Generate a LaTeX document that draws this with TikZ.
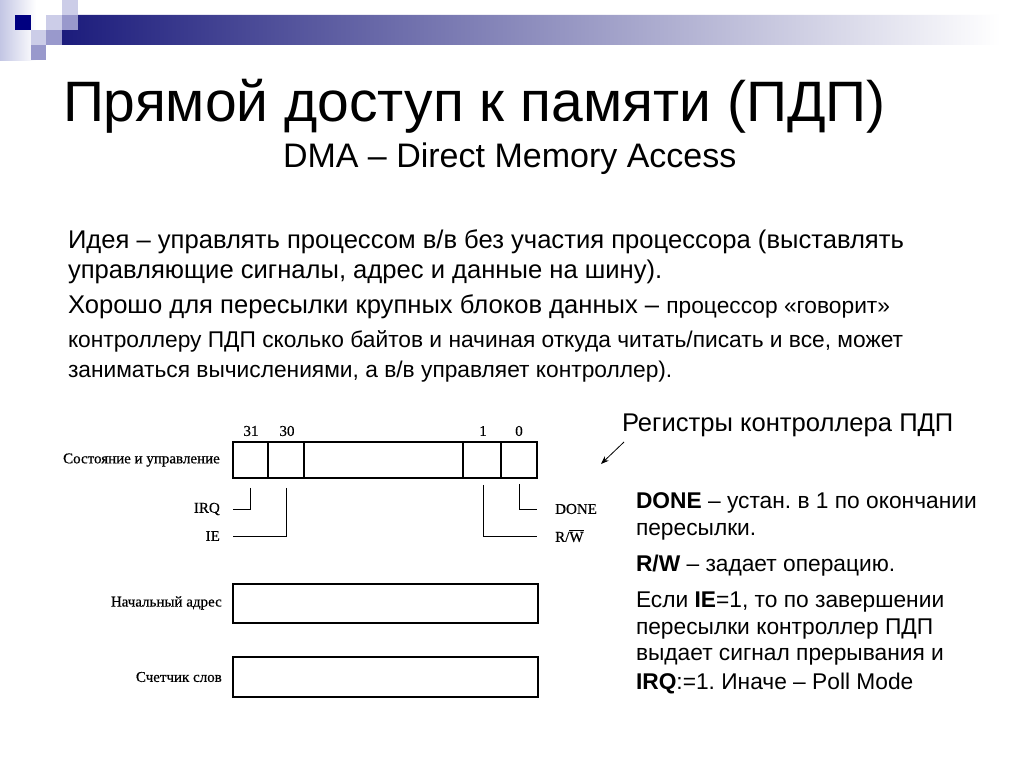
\documentclass[tikz,border=0pt]{standalone}
\usepackage{fontspec}
\setmainfont{Liberation Sans}
\newfontfamily\scanfont[FakeBold=0.5]{Liberation Serif}
\usetikzlibrary{arrows.meta}
\definecolor{navy}{HTML}{000080}
\definecolor{bandc}{HTML}{1C1C7C}
\definecolor{bandmid}{HTML}{9E9FB9}
\definecolor{lav}{HTML}{CCCDE8}
\definecolor{midlav}{HTML}{9999CC}
\definecolor{leftg}{HTML}{C3C6E4}
\tikzset{
  txt/.style={anchor=base west, inner sep=0pt, outer sep=0pt},
  titlefont/.style={font=\fontsize{57}{68}\selectfont},
  subfont/.style={font=\fontsize{34}{40}\selectfont},
  bigbody/.style={font=\fontsize{25.6}{30}\selectfont},
  smallbody/.style={font=\fontsize{22.75}{27}\selectfont},
  scanlbl/.style={inner sep=0pt, font=\scanfont\fontsize{15}{18}\selectfont},
  cell/.style={draw, line width=1.8pt, inner sep=0pt, minimum height=36pt},
  regbox/.style={draw, line width=1.8pt, inner sep=0pt, minimum width=305pt},
  leader/.style={line width=0.9pt},
}
\frenchspacing
\begin{document}
\begin{tikzpicture}[x=1pt,y=-1pt]
\useasboundingbox[fill=white] (0,0) rectangle (1024,768);
% decoration
\shade[left color=leftg, right color=white] (0,0) rectangle (36,60);
\shade[left color=bandc, middle color=bandmid, right color=white]
  (78,15) -- (1000,15) -- (1000,45) -- (62,45) -- (62,30) -- (78,30) -- cycle;
\fill[lav] (62,0) rectangle (78,15);
\fill[navy] (15,15) rectangle (31,30);
\fill[lav] (46,15) rectangle (62,30);
\fill[midlav] (62,15) rectangle (78,30);
\fill[lav] (31,30) rectangle (46,45);
\fill[midlav] (46,30) rectangle (62,45);
\fill[midlav] (31,45) rectangle (46,60);
% titles
\node[txt, titlefont] (title) at (63,121) {Прямой доступ к памяти (ПДП)};
\node[txt, subfont] (sub) at (283,167) {DMA – Direct Memory Access};
% body
\node[txt, bigbody] (p1a) at (68,248) {Идея – управлять процессом в/в без участия процессора (выставлять};
\node[txt, bigbody] (p1b) at (68,278) {управляющие сигналы, адрес и данные на шину).};
\node[txt] (p2a) at (68,313) {{\fontsize{25.6}{30}\selectfont Хорошо для пересылки крупных блоков данных – }{\fontsize{22.75}{27}\selectfont процессор «говорит»}};
\node[txt, smallbody] (p2b) at (68,347) {контроллеру ПДП сколько байтов и начиная откуда читать/писать и все, может};
\node[txt, smallbody] (p2c) at (68,377) {заниматься вычислениями, а в/в управляет контроллер).};
% right column
\node[txt, bigbody] (regs) at (622,431) {Регистры контроллера ПДП};
\coordinate (arrS) at (624,442);
\coordinate (arrE) at (601,464);
\draw[line width=0.8pt, -{Stealth[length=8pt,width=6pt]}] (arrS) -- (arrE);
\node[txt, smallbody] (r1) at (636,508) {\textbf{DONE} – устан. в 1 по окончании};
\node[txt, smallbody] (r2) at (636,535) {пересылки.};
\node[txt, smallbody] (r3) at (636,571) {\textbf{R/W} – задает операцию.};
\node[txt, smallbody] (r4) at (636,607) {Если \textbf{IE}=1, то по завершении};
\node[txt, smallbody] (r5) at (636,634) {пересылки контроллер ПДП};
\node[txt, smallbody] (r6) at (636,660) {выдает сигнал прерывания и};
\node[txt, smallbody] (r7) at (636,689) {\textbf{IRQ}:=1. Иначе – Poll Mode};
% register diagram
\node[cell, minimum width=35pt] (c31) at (250.5,460) {};
\node[cell, minimum width=36pt] (c30) at (286,460) {};
\node[cell, minimum width=159pt] (cmid) at (383.5,460) {};
\node[cell, minimum width=38pt] (c1) at (482,460) {};
\node[cell, minimum width=36pt] (c0) at (519,460) {};
\node[scanlbl] (b31) at (251,431) {31};
\node[scanlbl] (b30) at (287,431) {30};
\node[scanlbl] (b1) at (483,431) {1};
\node[scanlbl] (b0) at (519,431) {0};
\node[scanlbl, anchor=east] (lstat) at (220,460) {Состояние и управление};
\node[scanlbl, anchor=east] (irq) at (220,509) {IRQ};
\node[scanlbl, anchor=east] (ie) at (220,536) {IE};
\node[scanlbl, anchor=west] (done) at (555,509) {DONE};
\node[scanlbl, anchor=west] (rw) at (555,536) {R/$\overline{\mbox{W}}$};
\draw[leader] ([yshift=-9pt]c31.south) |- ([xshift=13pt]irq.east);
\draw[leader] ([yshift=-9pt]c30.south) |- ([xshift=13pt]ie.east);
\draw[leader] ([yshift=-5pt]c0.south) |- ([xshift=-18pt]done.west);
\draw[leader] ([xshift=1pt,yshift=-6pt]c1.south) |- ([xshift=-18pt]rw.west);
\node[regbox, minimum height=39pt] (addr) at (385.5,603.5) {};
\node[regbox, minimum height=40pt] (cnt) at (385.5,677) {};
\node[scanlbl, anchor=east] (laddr) at (222,603) {Начальный адрес};
\node[scanlbl, anchor=east] (lcnt) at (222,677) {Счетчик слов};
\end{tikzpicture}
\end{document}
